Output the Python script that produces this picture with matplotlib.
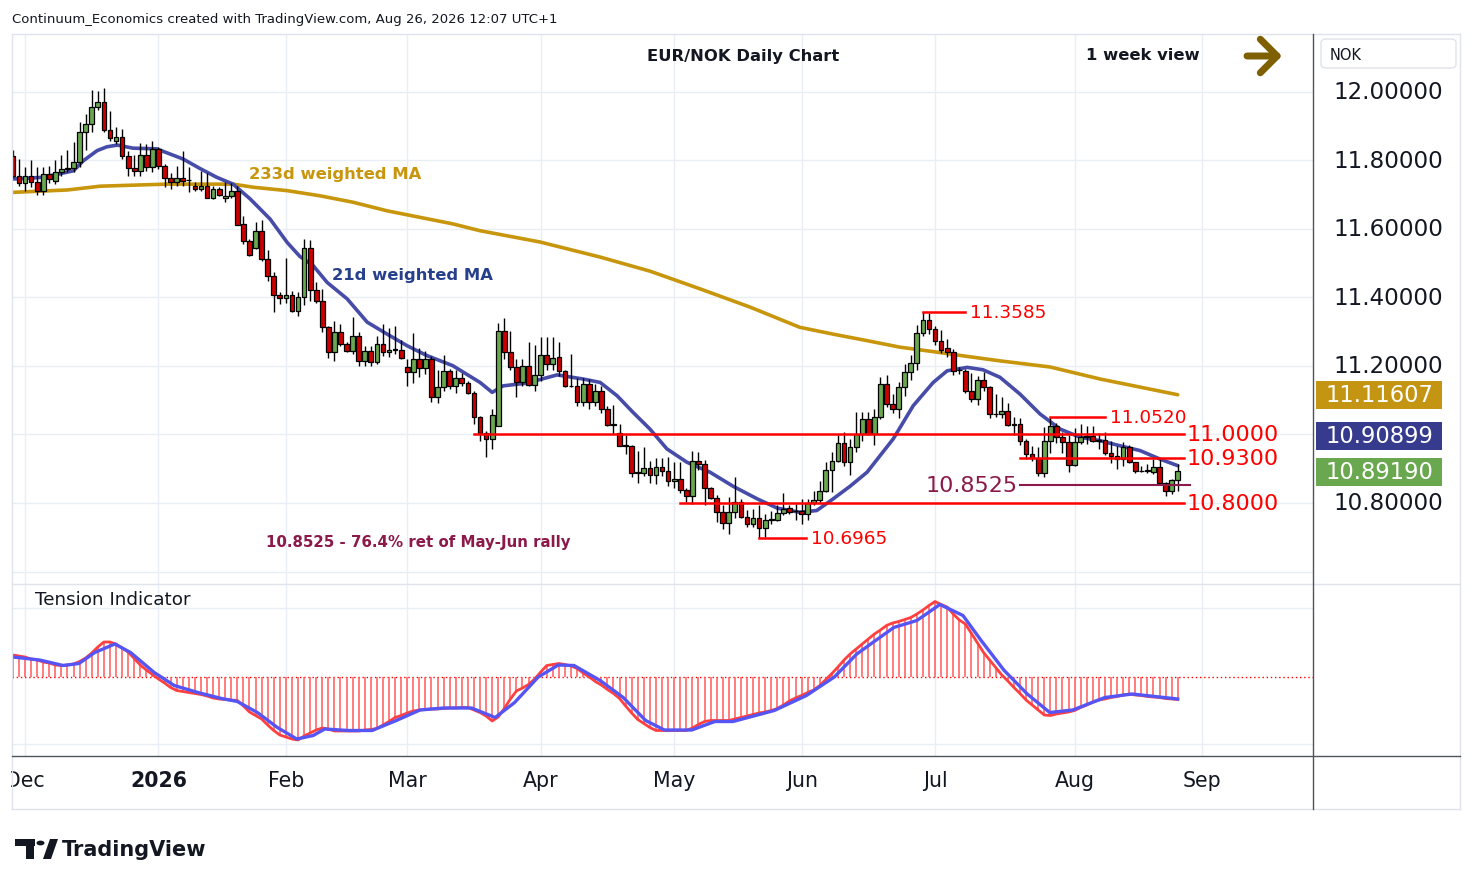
import matplotlib
matplotlib.use("Agg")
import matplotlib.pyplot as plt
import numpy as np
from matplotlib.patches import Rectangle, FancyBboxPatch, FancyArrowPatch, Polygon, Circle
from matplotlib.lines import Line2D
from matplotlib.transforms import blended_transform_factory

# ---------------- data ----------------
# bar index 0 = 1 Dec 2025, one bar per trading day, last bar = 26 Aug 2026
first_bar = -2

opens = [
    11.814, 11.756, 11.733, 11.756, 11.738, 11.712, 11.762, 11.740, 11.766, 11.775,
    11.778, 11.796, 11.884, 11.907, 11.955, 11.970, 11.890, 11.858, 11.868, 11.812,
    11.777, 11.768, 11.815, 11.780, 11.834, 11.785, 11.750, 11.736, 11.750, 11.743,
    11.726, 11.718, 11.726, 11.690, 11.717, 11.690, 11.697, 11.712, 11.615, 11.566,
    11.544, 11.593, 11.512, 11.462, 11.407, 11.398, 11.408, 11.362, 11.401, 11.544,
    11.422, 11.389, 11.313, 11.240, 11.298, 11.264, 11.245, 11.287, 11.216, 11.243,
    11.213, 11.264, 11.240, 11.248, 11.248, 11.196, 11.182, 11.220, 11.193, 11.220,
    11.110, 11.138, 11.185, 11.141, 11.164, 11.150, 11.121, 11.050, 11.004, 10.987,
    11.026, 11.301, 11.240, 11.196, 11.152, 11.199, 11.145, 11.174, 11.232, 11.206,
    11.226, 11.185, 11.141, 11.141, 11.094, 11.147, 11.096, 11.126, 11.074, 11.029,
    11.003, 10.967, 10.966, 10.888, 10.888, 10.902, 10.882, 10.904, 10.893, 10.863,
    10.870, 10.838, 10.819, 10.922, 10.913, 10.843, 10.814, 10.775, 10.741, 10.775,
    10.804, 10.758, 10.739, 10.756, 10.726, 10.751, 10.751, 10.770, 10.784, 10.776,
    10.776, 10.769, 10.800, 10.810, 10.835, 10.895, 10.924, 10.975, 10.919, 10.963,
    11.001, 11.045, 11.001, 11.050, 11.147, 11.089, 11.074, 11.138, 11.182, 11.209,
    11.296, 11.335, 11.308, 11.272, 11.252, 11.241, 11.187, 11.184, 11.128, 11.104,
    11.159, 11.138, 11.060, 11.060, 11.068, 11.028, 11.032, 10.982, 10.943, 10.931,
    10.888, 10.982, 11.024, 10.992, 10.977, 10.910, 10.977, 10.996, 10.996, 10.980,
    10.983, 10.945, 10.938, 10.928, 10.963, 10.919, 10.893, 10.893, 10.891, 10.904,
    10.857, 10.836, 10.867,
]
highs = [
    11.830, 11.805, 11.780, 11.801, 11.780, 11.780, 11.785, 11.801, 11.815, 11.830,
    11.853, 11.913, 11.937, 12.007, 12.002, 12.012, 11.944, 11.897, 11.892, 11.829,
    11.815, 11.850, 11.847, 11.857, 11.840, 11.790, 11.763, 11.785, 11.827, 11.780,
    11.736, 11.770, 11.764, 11.726, 11.722, 11.736, 11.734, 11.726, 11.639, 11.570,
    11.620, 11.625, 11.539, 11.475, 11.417, 11.514, 11.420, 11.415, 11.571, 11.569,
    11.445, 11.425, 11.318, 11.332, 11.322, 11.269, 11.342, 11.298, 11.259, 11.259,
    11.288, 11.323, 11.310, 11.316, 11.277, 11.220, 11.296, 11.252, 11.245, 11.228,
    11.187, 11.232, 11.192, 11.187, 11.180, 11.157, 11.128, 11.055, 11.011, 11.075,
    11.326, 11.340, 11.303, 11.220, 11.220, 11.269, 11.262, 11.284, 11.284, 11.284,
    11.269, 11.187, 11.235, 11.164, 11.164, 11.161, 11.148, 11.142, 11.083, 11.087,
    11.031, 10.998, 10.970, 10.953, 10.963, 10.924, 10.930, 10.930, 10.934, 10.920,
    10.920, 10.843, 10.953, 10.950, 10.927, 10.846, 10.822, 10.793, 10.817, 10.875,
    10.812, 10.780, 10.782, 10.794, 10.768, 10.778, 10.794, 10.828, 10.794, 10.797,
    10.812, 10.812, 10.836, 10.864, 10.919, 10.950, 10.999, 11.006, 10.988, 11.065,
    11.067, 11.065, 11.074, 11.167, 11.173, 11.118, 11.153, 11.206, 11.231, 11.320,
    11.3585, 11.356, 11.316, 11.306, 11.280, 11.251, 11.198, 11.190, 11.180, 11.172,
    11.182, 11.141, 11.119, 11.109, 11.091, 11.050, 11.049, 10.987, 10.966, 10.963,
    11.021, 11.052, 11.033, 11.006, 10.999, 11.020, 11.030, 11.024, 11.025, 11.004,
    11.006, 10.980, 10.966, 10.978, 10.968, 10.921, 10.909, 10.914, 10.928, 10.928,
    10.860, 10.869, 10.914,
]
lows = [
    11.750, 11.727, 11.712, 11.722, 11.700, 11.700, 11.735, 11.730, 11.756, 11.765,
    11.765, 11.780, 11.830, 11.882, 11.946, 11.882, 11.858, 11.848, 11.804, 11.754,
    11.756, 11.756, 11.768, 11.765, 11.775, 11.722, 11.717, 11.727, 11.727, 11.707,
    11.712, 11.712, 11.690, 11.688, 11.697, 11.680, 11.690, 11.613, 11.556, 11.520,
    11.541, 11.507, 11.449, 11.359, 11.380, 11.385, 11.359, 11.345, 11.377, 11.391,
    11.385, 11.298, 11.223, 11.215, 11.259, 11.240, 11.235, 11.201, 11.201, 11.201,
    11.206, 11.230, 11.225, 11.236, 11.220, 11.141, 11.150, 11.168, 11.177, 11.096,
    11.093, 11.126, 11.132, 11.122, 11.143, 11.117, 11.031, 10.982, 10.933, 10.958,
    11.025, 11.221, 11.187, 11.109, 11.143, 11.141, 11.126, 11.157, 11.187, 11.187,
    11.172, 11.139, 11.139, 11.083, 11.084, 11.074, 11.084, 11.064, 11.025, 11.001,
    10.967, 10.943, 10.875, 10.858, 10.880, 10.858, 10.855, 10.880, 10.849, 10.845,
    10.829, 10.802, 10.797, 10.895, 10.793, 10.812, 10.744, 10.725, 10.710, 10.756,
    10.756, 10.731, 10.730, 10.6965, 10.700, 10.740, 10.746, 10.764, 10.769, 10.749,
    10.739, 10.749, 10.795, 10.803, 10.831, 10.833, 10.919, 10.909, 10.882, 10.950,
    10.981, 10.998, 10.970, 11.046, 11.080, 11.064, 11.048, 11.112, 11.158, 11.187,
    11.287, 11.293, 11.260, 11.238, 11.226, 11.174, 11.178, 11.121, 11.094, 11.085,
    11.128, 11.048, 11.050, 11.047, 11.024, 10.999, 10.968, 10.929, 10.924, 10.878,
    10.875, 10.946, 10.976, 10.947, 10.890, 10.907, 10.972, 10.972, 10.978, 10.958,
    10.940, 10.918, 10.899, 10.909, 10.917, 10.888, 10.891, 10.888, 10.886, 10.855,
    10.820, 10.827, 10.836,
]
closes = [
    11.756, 11.733, 11.756, 11.736, 11.710, 11.762, 11.746, 11.765, 11.775, 11.778,
    11.796, 11.884, 11.907, 11.955, 11.970, 11.890, 11.865, 11.868, 11.812, 11.777,
    11.768, 11.815, 11.780, 11.834, 11.785, 11.750, 11.736, 11.750, 11.741, 11.743,
    11.718, 11.726, 11.690, 11.717, 11.700, 11.697, 11.712, 11.613, 11.566, 11.524,
    11.593, 11.512, 11.462, 11.407, 11.398, 11.408, 11.362, 11.401, 11.544, 11.422,
    11.389, 11.313, 11.240, 11.298, 11.264, 11.245, 11.287, 11.216, 11.243, 11.213,
    11.264, 11.240, 11.248, 11.248, 11.223, 11.182, 11.220, 11.193, 11.220, 11.110,
    11.138, 11.185, 11.141, 11.164, 11.150, 11.121, 11.050, 11.004, 10.987, 11.058,
    11.301, 11.240, 11.196, 11.152, 11.199, 11.145, 11.174, 11.232, 11.206, 11.223,
    11.185, 11.141, 11.141, 11.094, 11.147, 11.096, 11.126, 11.074, 11.029, 11.029,
    10.967, 10.967, 10.888, 10.888, 10.902, 10.882, 10.904, 10.893, 10.863, 10.870,
    10.838, 10.819, 10.922, 10.913, 10.843, 10.814, 10.775, 10.741, 10.775, 10.804,
    10.758, 10.739, 10.756, 10.726, 10.750, 10.751, 10.770, 10.782, 10.775, 10.776,
    10.769, 10.800, 10.810, 10.835, 10.895, 10.924, 10.975, 10.919, 10.963, 11.001,
    11.045, 11.001, 11.050, 11.147, 11.089, 11.074, 11.138, 11.182, 11.209, 11.296,
    11.335, 11.308, 11.272, 11.248, 11.241, 11.184, 11.187, 11.128, 11.104, 11.159,
    11.140, 11.060, 11.060, 11.068, 11.028, 11.032, 10.982, 10.943, 10.931, 10.888,
    10.982, 11.024, 10.992, 10.977, 10.910, 10.977, 10.992, 10.992, 10.980, 10.983,
    10.945, 10.938, 10.928, 10.963, 10.919, 10.893, 10.893, 10.895, 10.904, 10.857,
    10.836, 10.867, 10.892,
]

# 21d weighted MA (bar index, value)
ma21_x = [-2, 3, 8, 9.6, 11.9, 13.5, 15.2, 17.8, 21.7, 26.1,
          28.8, 31.6, 34.3, 37.1, 40.4, 43.2, 45.3, 47.5, 49.8, 53.1,
          56.4, 59.7, 63, 66.3, 70.5, 75, 77, 78.8, 82.7, 87.7,
          92, 94.8, 97.6, 100.2, 103, 105.8, 109.1, 112.9, 116.7, 120.7,
          124, 127.7, 130.5, 133.2, 136, 138.8, 143.1, 146.4, 149.7, 152,
          155.3, 157.9, 160.7, 164, 167.3, 170.6, 173.9, 177.2, 180.5, 183.8,
          187.1, 190]
ma21_v = [11.746, 11.751, 11.770, 11.799, 11.829, 11.840, 11.845, 11.836, 11.834, 11.804,
          11.777, 11.751, 11.731, 11.688, 11.629, 11.561, 11.520, 11.493, 11.444, 11.396,
          11.328, 11.293, 11.259, 11.230, 11.201, 11.152, 11.123, 11.142, 11.150, 11.174,
          11.162, 11.152, 11.113, 11.065, 11.016, 10.958, 10.919, 10.890, 10.849, 10.812,
          10.785, 10.773, 10.778, 10.812, 10.849, 10.890, 10.987, 11.084, 11.152, 11.186,
          11.196, 11.189, 11.167, 11.118, 11.060, 11.016, 10.992, 10.982, 10.967, 10.953,
          10.928, 10.90899]

# 233d weighted MA
ma233_x = [-2, 7, 12.4, 17.8, 23.4, 34.3, 37.6, 43.2, 48.6, 54.1,
           59.7, 65.1, 70.5, 75, 84.9, 94.8, 103, 111.3, 119.5, 127.7,
           133.2, 138.8, 144.2, 149.7, 155.3, 160.7, 169, 177.2, 190]
ma233_v = [11.707, 11.714, 11.725, 11.728, 11.731, 11.731, 11.722, 11.712, 11.697, 11.678,
           11.653, 11.634, 11.615, 11.595, 11.562, 11.518, 11.477, 11.425, 11.372, 11.313,
           11.293, 11.274, 11.255, 11.242, 11.228, 11.215, 11.197, 11.162, 11.11607]

# tension indicator: fast (red) per bar, slow (blue) sampled
tension_fast = [
    2.2, 2.1, 2.0, 1.8, 1.7, 1.5, 1.4, 1.2, 1.15, 1.2,
    1.3, 1.55, 1.9, 2.4, 3.0, 3.5, 3.5, 3.3, 2.9, 2.5,
    1.85, 1.2, 0.7, 0.25, -0.2, -0.6, -1.05, -1.35, -1.45, -1.55,
    -1.65, -1.75, -1.9, -2.1, -2.2, -2.25, -2.3, -2.35, -2.9, -3.5,
    -3.85, -4.2, -4.8, -5.35, -5.8, -6.0, -6.2, -6.3, -5.9, -5.6,
    -5.3, -5.1, -5.2, -5.4, -5.4, -5.4, -5.4, -5.4, -5.3, -5.25,
    -5.15, -4.8, -4.45, -4.05, -3.85, -3.6, -3.4, -3.3, -3.25, -3.2,
    -3.2, -3.15, -3.1, -3.1, -3.05, -3.05, -3.3, -3.55, -3.9, -4.4,
    -4.0, -3.15, -2.2, -1.4, -1.1, -0.75, -0.2, 0.5, 1.15, 1.25,
    1.35, 1.25, 1.1, 0.85, 0.4, 0.0, -0.45, -0.8, -1.25, -1.65,
    -2.15, -2.9, -3.6, -4.25, -4.65, -5.05, -5.35, -5.35, -5.35, -5.35,
    -5.35, -5.35, -5.1, -4.75, -4.45, -4.35, -4.35, -4.35, -4.35, -4.2,
    -4.05, -3.9, -3.75, -3.6, -3.5, -3.35, -3.15, -2.8, -2.4, -2.1,
    -1.85, -1.55, -1.3, -0.85, -0.25, 0.35, 1.0, 1.7, 2.3, 2.8,
    3.3, 3.8, 4.3, 4.7, 5.15, 5.4, 5.55, 5.75, 5.95, 6.3,
    6.7, 7.15, 7.55, 7.25, 7.0, 6.3, 5.7, 5.3, 4.35, 3.4,
    2.45, 1.7, 0.95, 0.2, -0.4, -1.05, -1.65, -2.3, -2.8, -3.3,
    -3.8, -3.85, -3.7, -3.6, -3.5, -3.35, -3.05, -2.8, -2.5, -2.3,
    -2.2, -2.05, -1.95, -1.8, -1.7, -1.8, -1.85, -1.95, -2.0, -2.05,
    -2.15, -2.2, -2.25,
]
slow_x = [-2, 2.4, 6.3, 8.9, 11.5, 14.8, 17.4, 21.3, 24.6, 28.5,
          32.4, 35, 38.3, 41.6, 44.8, 47.5, 49.4, 53.3, 57.2, 61.2,
          65.1, 69, 73.6, 77.5, 80.7, 84.6, 87.9, 90.5, 94.8, 98.6,
          102.3, 105.4, 109.9, 113.7, 116.7, 123.5, 128.8, 133.4, 137.1, 140.2,
          143.2, 147, 150.8, 154.6, 157.6, 161.4, 165.2, 168.9, 172.7, 178,
          182.5, 190]
slow_v = [2.0, 1.7, 1.15, 1.35, 2.45, 3.3, 2.45, 0.45, -0.85, -1.55,
          -2.15, -2.45, -3.55, -5.05, -6.2, -5.85, -5.2, -5.35, -5.35, -4.35,
          -3.3, -3.1, -3.1, -4.05, -2.55, 0.0, 1.2, 1.15, -0.35, -2.05,
          -4.35, -5.3, -5.3, -4.45, -4.45, -3.35, -1.85, 0.0, 2.3, 3.65,
          4.95, 5.65, 7.25, 6.15, 3.65, 0.65, -1.7, -3.55, -3.3, -2.05,
          -1.7, -2.2]

# support / resistance levels
big_levels = [11.0, 10.93, 10.80]
big_start = [74, 164, 108]
small_levels = [11.052, 11.3585, 10.6965]
small_start = [169, 148, 121]
small_end = [178, 155, 128.7]
ret_level = 10.8525

month_pos = [0, 22, 43, 63, 85, 107, 128, 150, 173, 194]
month_lbl = ["Dec", "2026", "Feb", "Mar", "Apr", "May", "Jun", "Jul", "Aug", "Sep"]
price_ticks = [12.0, 11.8, 11.6, 11.4, 11.2, 11.0, 10.8, 10.6]
shown_ticks = [12.0, 11.8, 11.6, 11.4, 11.2, 10.8]

last_close = 10.89190
last_ma21 = 10.90899
last_ma233 = 11.11607

# ---------------- layout ----------------
W, H = 1474, 887
px_bar = 6.067       # pixels per bar
bar0_px = 25         # pixel x of bar 0
px_price = 342.5     # pixels per 1.0 of price
p12_px = 93          # pixel y of 12.0


def fx(px):
    return px / W


def fy(py):
    return 1 - py / H


fig = plt.figure(figsize=(W / 100, H / 100), dpi=100)
fig.patch.set_facecolor("white")

L, R = 12, 1313
ax = fig.add_axes([fx(L), fy(585), fx(R) - fx(L), fy(35) - fy(585)])
ax2 = fig.add_axes([fx(L), fy(757), fx(R) - fx(L), fy(585) - fy(757)])

xlim = ((L - bar0_px) / px_bar, (R - bar0_px) / px_bar)
for a in (ax, ax2):
    a.set_xlim(*xlim)
    for s in a.spines.values():
        s.set_visible(False)
    a.set_xticks([])
    a.set_yticks([])
    a.set_facecolor("white")

ax.set_ylim(12 - (585 - p12_px) / px_price, 12 + (p12_px - 35) / px_price)
ax2.set_ylim(-7.9, 9.3)

grid_c = "#e9eef4"
for p in price_ticks:
    ax.axhline(p, color=grid_c, lw=1, zorder=0)
for m in month_pos:
    ax.axvline(m, color=grid_c, lw=1, zorder=0)
    ax2.axvline(m, color=grid_c, lw=1, zorder=0)
for g in (6.9, -6.7):
    ax2.axhline(g, color=grid_c, lw=1, zorder=0)

# ---------------- candles ----------------
x = np.arange(first_bar, first_bar + len(closes))
o = np.array(opens)
c = np.array(closes)
hi = np.array(highs)
lo = np.array(lows)
body_lo = np.minimum(o, c)
body_h = np.maximum(np.abs(c - o), 0.0012)
cols = np.where(c >= o, "#6aa84f", "#cc0000")

ax.vlines(x, lo, hi, color="black", lw=1, zorder=3)
ax.bar(x, body_h, bottom=body_lo, width=0.78, color=cols, edgecolor="black",
       linewidth=0.9, zorder=4)

# moving averages
ax.plot(ma233_x, ma233_v, color="#c8960c", lw=2.6, zorder=2, solid_capstyle="round")
ax.plot(ma21_x, ma21_v, color="#464ca8", lw=2.6, zorder=2.5, solid_capstyle="round")

# levels
red = "#ff0000"
for lv, st in zip(big_levels, big_start):
    ax.plot([st, 191], [lv, lv], color=red, lw=1.8, zorder=5)
    ax.text(191.4, lv, f"{lv:.4f}", color=red, fontsize=16,
            ha="left", va="center", zorder=6)
for lv, st, en in zip(small_levels, small_start, small_end):
    ax.plot([st, en], [lv, lv], color=red, lw=1.8, zorder=5)
    ax.text(en + 0.8, lv, f"{lv:.4f}", color=red, fontsize=13.3,
            ha="left", va="center", zorder=6)

maroon = "#8b1a4b"
ax.plot([164, 192], [ret_level, ret_level], color=maroon, lw=1.5, zorder=5)
ax.text(163.7, ret_level, f"{ret_level:.4f}", color=maroon, fontsize=16,
        ha="right", va="center", zorder=6)
ax.text(39.7, 10.689, "10.8525 - 76.4% ret of May-Jun rally", color=maroon,
        fontsize=10.8, fontweight="bold", ha="left", va="center", zorder=6)

ax.text(37, 11.763, "233d weighted MA", color="#c8960c", fontsize=11.8,
        fontweight="bold", ha="left", va="center", zorder=6)
ax.text(50.6, 11.466, "21d weighted MA", color="#27408b", fontsize=11.8,
        fontweight="bold", ha="left", va="center", zorder=6)

# ---------------- right price scale ----------------
ytrans = blended_transform_factory(ax.transAxes, ax.transData)
ax_w = R - L
for p in shown_ticks:
    ax.text(1 + 20 / ax_w, p, f"{p:.5f}", transform=ytrans, fontsize=16.6,
            color="#131722", ha="left", va="center", clip_on=False)

navy_shift = 30 / px_price
boxes = [(last_ma233, last_ma233, "#c39513"),
         (last_ma21, last_ma21 + navy_shift, "#363b8d"),
         (last_close, last_close, "#6aa84f")]
bx0 = (1316 - L) / ax_w
bx1 = (1442 - L) / ax_w
half = 14 / px_price
for val, ypos, col in boxes:
    ax.add_patch(Rectangle((bx0, ypos - half), bx1 - bx0, 2 * half, transform=ytrans,
                           facecolor=col, edgecolor="none", clip_on=False, zorder=7))
    ax.text((bx0 + bx1) / 2, ypos, f"{val:.5f}", transform=ytrans, fontsize=16.3,
            color="white", ha="center", va="center", clip_on=False, zorder=8)

# ---------------- tension indicator ----------------
tf = np.array(tension_fast)
ax2.axhline(0, color=red, lw=1, ls=(0, (1, 2)), zorder=1)
ax2.vlines(x, 0, tf, color="#ff5a5a", lw=1.1, zorder=2)
ax2.plot(x, tf, color="#ff4040", lw=2, zorder=3)
ax2.plot(slow_x, slow_v, color="#5555f5", lw=2.4, zorder=4)
fig.text(fx(35), fy(600), "Tension Indicator", fontsize=13.2, color="#131722",
         ha="left", va="center")

xtrans = blended_transform_factory(ax2.transData, ax2.transAxes)
for pos, lbl in zip(month_pos, month_lbl):
    ax2.text(pos, (757 - 781) / 172, lbl, transform=xtrans, fontsize=14.8,
             color="#131722", ha="center", va="center", clip_on=False,
             fontweight="bold" if lbl == "2026" else "normal")

# ---------------- frame lines ----------------
light = "#e0e3eb"
dark = "#50535e"
frame = [
    ((12, 1460), (35, 35), light),
    ((12, 1460), (585, 585), light),
    ((12, 1460), (810, 810), light),
    ((12, 12), (35, 810), light),
    ((1460, 1460), (35, 810), light),
    ((12, 1460), (757, 757), dark),
    ((1313, 1313), (35, 810), dark),
]
for xs, ys, col in frame:
    fig.add_artist(Line2D([fx(xs[0]), fx(xs[1])], [fy(ys[0]), fy(ys[1])],
                          color=col, lw=1, transform=fig.transFigure))

fig.add_artist(Rectangle((0, fy(805)), fx(11), fy(760) - fy(805), facecolor="white",
                         edgecolor="none", transform=fig.transFigure, zorder=10))

# ---------------- header / titles ----------------
fig.text(fx(12), fy(19), "Continuum_Economics created with TradingView.com, Aug 26, 2026 12:07 UTC+1",
         fontsize=9.5, color="#131722", ha="left", va="center")
fig.text(fx(743), fy(57), "EUR/NOK Daily Chart", fontsize=11.8, fontweight="bold",
         color="#131722", ha="center", va="center")
fig.text(fx(1143), fy(56), "1 week view", fontsize=11.8, fontweight="bold",
         color="#131722", ha="center", va="center")
fig.add_artist(FancyArrowPatch((fx(1247), fy(57)), (fx(1282), fy(57)),
                               transform=fig.transFigure,
                               arrowstyle="->,head_length=0.55,head_width=0.55",
                               mutation_scale=22, lw=5, color="#7f6000",
                               shrinkA=0, shrinkB=0,
                               capstyle="round", joinstyle="round"))

fig.add_artist(FancyBboxPatch((fx(1321), fy(69)), fx(1456) - fx(1321), fy(40) - fy(69),
                              boxstyle="round,pad=0,rounding_size=0.004",
                              transform=fig.transFigure, facecolor="white",
                              edgecolor=light, lw=1))
fig.text(fx(1330), fy(55), "NOK", fontsize=10.5, color="#131722", ha="left", va="center")

# TradingView logo
fig.add_artist(Rectangle((fx(15), fy(847)), fx(20), fy(840) - fy(847), facecolor="#131722",
                         edgecolor="none", transform=fig.transFigure))
fig.add_artist(Rectangle((fx(26), fy(860)), fx(8), fy(840) - fy(860), facecolor="#131722",
                         edgecolor="none", transform=fig.transFigure))
fig.add_artist(Circle((fx(40.5), fy(844)), fx(4), facecolor="#131722",
                      edgecolor="none", transform=fig.transFigure))
fig.add_artist(Polygon([(fx(43), fy(860)), (fx(51), fy(860)), (fx(58), fy(840)), (fx(50), fy(840))],
                       closed=True, facecolor="#131722", edgecolor="none",
                       transform=fig.transFigure))
fig.text(fx(62), fy(850), "TradingView", fontsize=15, fontweight="bold",
         color="#131722", ha="left", va="center")

fig.savefig("out.png", dpi=100, facecolor="white")
